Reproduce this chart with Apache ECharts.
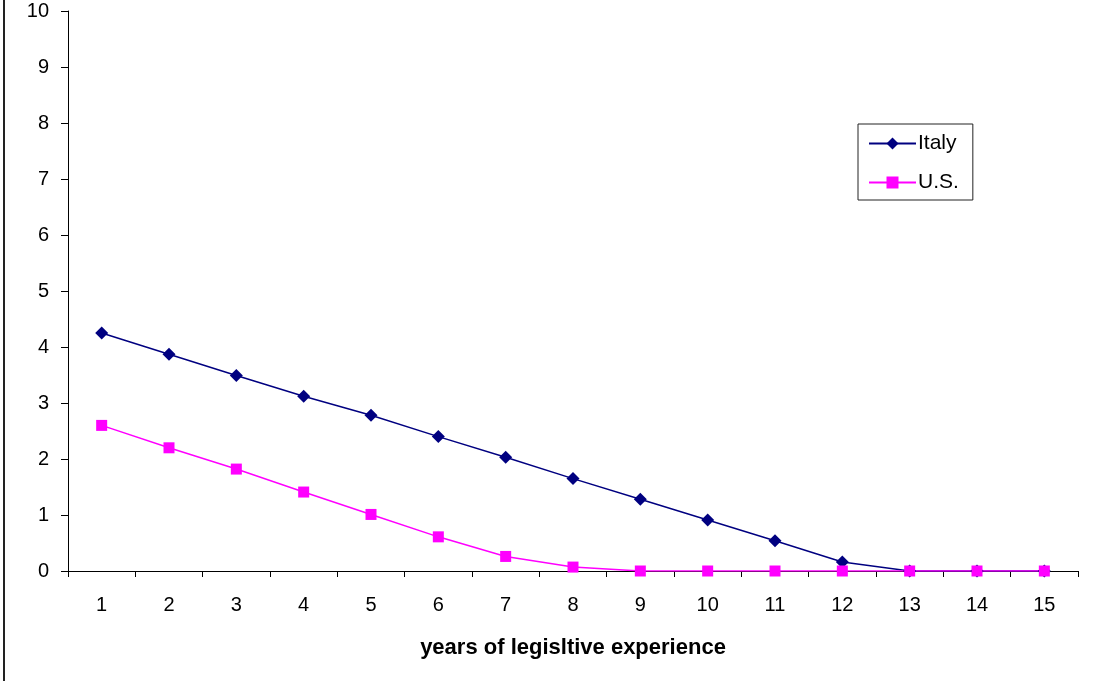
<!DOCTYPE html>
<html>
<head>
<meta charset="utf-8">
<script src="https://cdn.jsdelivr.net/npm/echarts@6/dist/echarts.min.js"></script>
<style>
html,body{margin:0;padding:0;background:#fff;}
#main{width:1103px;height:681px;}
</style>
</head>
<body>
<div id="main"></div>
<script>
var years = ['1','2','3','4','5','6','7','8','9','10','11','12','13','14','15'];
var italy = [4.25, 3.87, 3.49, 3.12, 2.78, 2.40, 2.03, 1.65, 1.28, 0.91, 0.54, 0.16, 0, 0, 0];
var us = [2.60, 2.20, 1.82, 1.41, 1.01, 0.61, 0.26, 0.07, 0, 0, 0, 0, 0, 0, 0];

var myChart = echarts.init(document.getElementById('main'));
var font = 'Liberation Sans, Arial, sans-serif';
option = {
    backgroundColor: '#fff',
    animation: false,
    grid: {left: 68, right: 25, top: 11, bottom: 110},
    legend: {
        orient: 'vertical',
        left: 858,
        top: 124,
        padding: [9, 14, 7, 10],
        itemGap: 18,
        itemWidth: 47,
        itemHeight: 15,
        borderColor: '#222',
        borderWidth: 1,
        textStyle: {color: '#000', fontSize: 21, fontFamily: font, padding: [0, 0, 0, -3]},
        data: ['Italy', 'U.S.']
    },
    graphic: [{
        type: 'line',
        shape: {x1: 4, y1: 0, x2: 4, y2: 681},
        style: {stroke: '#222', lineWidth: 2}
    }],
    xAxis: {
        type: 'category',
        data: years,
        boundaryGap: true,
        name: 'years of legisltive experience',
        nameLocation: 'middle',
        nameGap: 66,
        nameTextStyle: {color: '#000', fontSize: 22, fontWeight: 'bold', fontFamily: font},
        axisLine: {lineStyle: {color: '#000', width: 1}},
        axisTick: {show: true, length: 6, lineStyle: {color: '#000'}},
        axisLabel: {color: '#000', fontSize: 20, fontFamily: font, margin: 24},
        splitLine: {show: false}
    },
    yAxis: {
        type: 'value',
        min: 0,
        max: 10,
        interval: 1,
        axisLine: {show: true, lineStyle: {color: '#000', width: 1}},
        axisTick: {show: true, length: 7, lineStyle: {color: '#000'}},
        axisLabel: {color: '#000', fontSize: 20, fontFamily: font, margin: 19},
        splitLine: {show: false}
    },
    series: [
        {
            name: 'Italy',
            type: 'line',
            data: italy,
            symbol: 'diamond',
            symbolSize: 13,
            color: '#000080',
            lineStyle: {width: 1.5, color: '#000080'},
            itemStyle: {color: '#000080'}
        },
        {
            name: 'U.S.',
            type: 'line',
            data: us,
            symbol: 'rect',
            symbolSize: 11,
            color: '#ff00ff',
            lineStyle: {width: 1.5, color: '#ff00ff'},
            itemStyle: {color: '#ff00ff'}
        }
    ]
};
myChart.setOption(option);
</script>
</body>
</html>
